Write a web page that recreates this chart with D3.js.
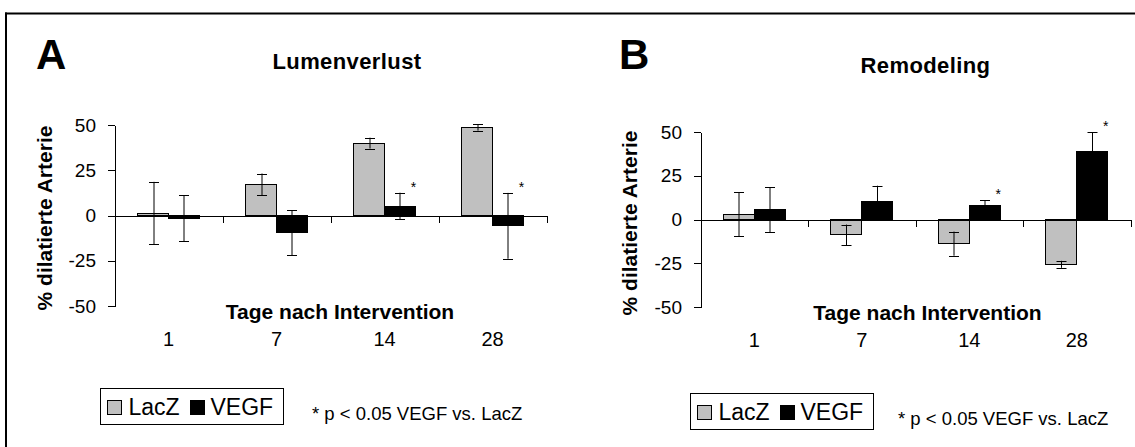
<!DOCTYPE html>
<html>
<head>
<meta charset="utf-8">
<script src="https://cdn.jsdelivr.net/npm/d3@7"></script>
<style>
  html, body { margin: 0; padding: 0; background: #fff; }
  svg { display: block; }
</style>
</head>
<body>
<script>
const width = 1135;
const height = 447;

const days = ['1', '7', '14', '28'];
const seriesNames = ['LacZ', 'VEGF'];
const yTicks = [-50, -25, 0, 25, 50];

// A: Lumenverlust
const lumenLacZ = [1.3, 17.2, 40, 48.6];
const lumenLacZErr = [17.3, 6, 3, 1.7];
const lumenVEGF = [-1.4, -9.6, 5.2, -5.7];
const lumenVEGFErr = [12.7, 12.4, 7.4, 18.2];
const lumenSig = [false, false, true, true];

// B: Remodeling
const remodLacZ = [3, -8.8, -13.8, -25.6];
const remodLacZErr = [12.7, 5.9, 6.9, 2];
const remodVEGF = [5.5, 10.3, 8.2, 38.6];
const remodVEGFErr = [12.9, 9, 2.9, 11.4];
const remodSig = [false, false, true, true];

const colors = { LacZ: '#c0c0c0', VEGF: '#000' };
const font = '"Liberation Sans", Arial, sans-serif';

const panels = [
  {
    letter: 'A', title: 'Lumenverlust',
    lacz: lumenLacZ, laczErr: lumenLacZErr, vegf: lumenVEGF, vegfErr: lumenVEGFErr, sig: lumenSig,
    xRange: [114.5, 546.5], yRange: [306, 125],
    letterPos: [36, 68.5], titlePos: [347, 68.5],
    yTitlePos: [51.5, 218], xTitlePos: [340, 318.5], catY: 346,
    legend: [100.5, 388.5], footPos: [312, 420]
  },
  {
    letter: 'B', title: 'Remodeling',
    lacz: remodLacZ, laczErr: remodLacZErr, vegf: remodVEGF, vegfErr: remodVEGFErr, sig: remodSig,
    xRange: [700.5, 1130.5], yRange: [307, 132],
    letterPos: [619, 69], titlePos: [925.5, 72.5],
    yTitlePos: [637, 223], xTitlePos: [927.5, 320], catY: 346.5,
    legend: [690.5, 393.5], footPos: [898, 425]
  }
];

const svg = d3.select('body').append('svg')
    .attr('width', width)
    .attr('height', height)
    .attr('font-family', font);

// frame (only top and left edges are visible)
svg.append('line')
    .attr('x1', 5).attr('x2', width)
    .attr('y1', 13.5).attr('y2', 13.5)
    .attr('stroke', '#000').attr('stroke-width', 2);
svg.append('line')
    .attr('x1', 6).attr('x2', 6)
    .attr('y1', 12.5).attr('y2', height)
    .attr('stroke', '#000').attr('stroke-width', 2);

panels.forEach(p => {
  const g = svg.append('g');

  const x0 = d3.scaleBand()
      .domain(days)
      .range(p.xRange);
  const bw = x0.bandwidth();
  const barW = bw * 0.287;
  const x1 = d3.scaleBand()
      .domain(seriesNames)
      .range([bw / 2 - barW, bw / 2 + barW]);

  const y = d3.scaleLinear()
      .domain([-50, 50])
      .range(p.yRange);

  // letter + title
  g.append('text')
      .attr('x', p.letterPos[0]).attr('y', p.letterPos[1])
      .attr('font-size', 42).attr('font-weight', 'bold')
      .text(p.letter);
  g.append('text')
      .attr('x', p.titlePos[0]).attr('y', p.titlePos[1])
      .attr('text-anchor', 'middle')
      .attr('font-size', 22).attr('font-weight', 'bold')
      .attr('letter-spacing', 0.4)
      .text(p.title);

  // y axis (plain hyphen for negatives, like the original)
  const yAxis = d3.axisLeft(y)
      .tickValues(yTicks)
      .tickFormat(d => String(d))
      .tickSize(7)
      .tickSizeOuter(0)
      .tickPadding(11.5);
  const ya = g.append('g')
      .attr('transform', `translate(${p.xRange[0]},0)`)
      .call(yAxis);
  ya.selectAll('text')
      .attr('font-family', font)
      .attr('font-size', 19)
      .attr('fill', '#000');
  ya.selectAll('line, path').attr('stroke', '#000').attr('shape-rendering', 'crispEdges');

  g.append('text')
      .attr('transform', `translate(${p.yTitlePos[0]},${p.yTitlePos[1]}) rotate(-90)`)
      .attr('text-anchor', 'middle')
      .attr('font-size', 21).attr('font-weight', 'bold')
      .text('% dilatierte Arterie');

  // bars
  const rows = days.map((d, i) => ({
    day: d,
    items: [
      { key: 'LacZ', value: p.lacz[i], err: p.laczErr[i], sig: false },
      { key: 'VEGF', value: p.vegf[i], err: p.vegfErr[i], sig: p.sig[i] }
    ]
  }));

  const grp = g.selectAll('g.day')
      .data(rows)
      .join('g')
      .attr('class', 'day')
      .attr('transform', d => `translate(${x0(d.day)},0)`);

  grp.selectAll('rect')
      .data(d => d.items)
      .join('rect')
      .attr('x', d => x1(d.key))
      .attr('y', d => y(Math.max(0, d.value)))
      .attr('width', x1.bandwidth())
      .attr('height', d => Math.abs(y(d.value) - y(0)))
      .attr('fill', d => colors[d.key])
      .attr('stroke', '#000')
      .attr('stroke-width', 1)
      .attr('shape-rendering', 'crispEdges');

  // x axis at zero, ticks between categories
  const xb = d3.scaleLinear().domain([0, days.length]).range(p.xRange);
  const xa = g.append('g')
      .attr('transform', `translate(0,${y(0)})`)
      .call(d3.axisBottom(xb)
        .tickValues(d3.range(days.length + 1))
        .tickFormat('')
        .tickSize(7)
        .tickSizeOuter(0));
  xa.selectAll('line, path').attr('stroke', '#000').attr('shape-rendering', 'crispEdges');

  // error bars
  const eb = grp.selectAll('g.err')
      .data(d => d.items)
      .join('g')
      .attr('class', 'err')
      .attr('transform', d => `translate(${Math.round(x1(d.key) + x1.bandwidth() / 2) + 0.5},0)`);
  eb.append('line')
      .attr('y1', d => y(d.value + d.err))
      .attr('y2', d => y(d.value - d.err))
      .attr('stroke', '#000');
  eb.append('line')
      .attr('x1', -5).attr('x2', 5)
      .attr('y1', d => Math.round(y(d.value + d.err)) + 0.5)
      .attr('y2', d => Math.round(y(d.value + d.err)) + 0.5)
      .attr('stroke', '#000');
  eb.append('line')
      .attr('x1', -5).attr('x2', 5)
      .attr('y1', d => Math.round(y(d.value - d.err)) + 0.5)
      .attr('y2', d => Math.round(y(d.value - d.err)) + 0.5)
      .attr('stroke', '#000');

  // significance stars
  grp.selectAll('text.star')
      .data(d => d.items.filter(it => it.sig))
      .join('text')
      .attr('class', 'star')
      .attr('x', d => x1(d.key) + x1.bandwidth() - 2)
      .attr('y', d => y(d.value + d.err) - 1)
      .attr('text-anchor', 'middle')
      .attr('font-size', 14)
      .text('*');

  // x title and category labels
  g.append('text')
      .attr('x', p.xTitlePos[0]).attr('y', p.xTitlePos[1])
      .attr('text-anchor', 'middle')
      .attr('font-size', 21).attr('font-weight', 'bold')
      .text('Tage nach Intervention');

  g.selectAll('text.cat')
      .data(days)
      .join('text')
      .attr('class', 'cat')
      .attr('x', d => x0(d) + bw / 2)
      .attr('y', p.catY)
      .attr('text-anchor', 'middle')
      .attr('font-size', 20)
      .text(d => d);

  // legend
  const lg = g.append('g')
      .attr('transform', `translate(${p.legend[0]},${p.legend[1]})`);
  lg.append('rect')
      .attr('width', 183).attr('height', 35.5)
      .attr('fill', '#fff').attr('stroke', '#000')
      .attr('shape-rendering', 'crispEdges');
  const itemX = [7, 90];
  seriesNames.forEach((s, i) => {
    lg.append('rect')
        .attr('x', itemX[i]).attr('y', 12)
        .attr('width', 14).attr('height', 14)
        .attr('fill', colors[s]).attr('stroke', '#000')
        .attr('shape-rendering', 'crispEdges');
    lg.append('text')
        .attr('x', itemX[i] + (i === 0 ? 21 : 20)).attr('y', 26)
        .attr('font-size', 23)
        .text(s);
  });

  g.append('text')
      .attr('x', p.footPos[0]).attr('y', p.footPos[1])
      .attr('font-size', 18.5)
      .text('* p < 0.05 VEGF vs. LacZ');
});
</script>
</body>
</html>
